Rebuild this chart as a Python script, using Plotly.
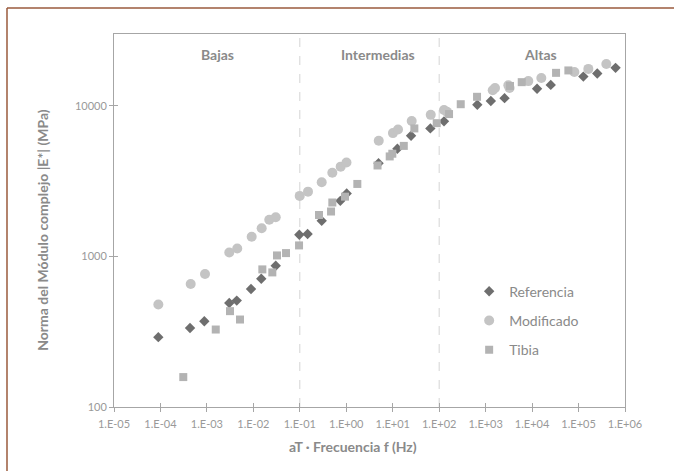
import math
import plotly.graph_objects as go

# Complex modulus |E*| (MPa) vs reduced frequency aT·f (Hz)
ref_f = [9.0e-5, 4.33e-4, 8.8e-4, 3.03e-3, 4.39e-3, 8.9e-3, 1.48e-2, 3.03e-2,
         9.75e-2, 0.147, 0.296, 0.745, 1.02, 4.95, 12.6, 24.8, 64.5, 127,
         662, 1294, 2553, 12790, 25220, 126800, 252900, 626600]
ref_E = [291, 335, 371, 491, 509, 607, 711, 867,
         1393, 1409, 1722, 2338, 2618, 4157, 5189, 6324, 7079, 7888,
         10160, 10770, 11250, 12970, 13770, 15630, 16410, 17870]

mod_f = [9.0e-5, 4.48e-4, 9.1e-4, 3.03e-3, 4.5e-3, 9.2e-3, 1.51e-2, 2.2e-2, 3.03e-2,
         9.95e-2, 0.150, 0.296, 0.501, 0.758, 1.01, 5.0, 10.1, 13.0, 25.6, 65.8,
         127, 147.6, 1422, 1593, 3083, 3272, 8300, 15810, 81280, 162500, 396400]
mod_E = [479, 656, 764, 1063, 1130, 1350, 1539, 1750, 1820,
         2523, 2692, 3112, 3597, 3946, 4200, 5859, 6590, 6965, 7924, 8711,
         9376, 9120, 12700, 13150, 13710, 13150, 14590, 15310, 16790, 17590, 18970]

tib_f = [3.1e-4, 1.55e-3, 3.14e-3, 5.16e-3, 1.56e-2, 2.56e-2, 3.23e-2, 5.05e-2, 9.62e-2,
         0.259, 0.470, 0.501, 0.940, 1.73, 4.71, 8.61, 9.8, 17.3, 29.2, 88.5,
         163, 291, 653, 3350, 5985, 32800, 60390]
tib_E = [158, 327, 433, 381, 820, 783, 1015, 1052, 1183,
         1884, 1987, 2280, 2494, 3029, 4017, 4613, 4808, 5420, 7079, 7670,
         8814, 10250, 11480, 13550, 14360, 16560, 17180]

x_ticks = [1e-5, 1e-4, 1e-3, 1e-2, 1e-1, 1e0, 1e1, 1e2, 1e3, 1e4, 1e5, 1e6]
x_tick_text = ["1.E-05", "1.E-04", "1.E-03", "1.E-02", "1.E-01", "1.E+00",
               "1.E+01", "1.E+02", "1.E+03", "1.E+04", "1.E+05", "1.E+06"]
y_ticks = [100, 1000, 10000]
y_tick_text = ["100", "1000", "10000"]

# frequency zones and their boundaries
zone_names = ["Bajas", "Intermedias", "Altas"]
zone_label_f = [1.73e-3, 4.8, 15500]
zone_bounds = [0.1, 100]

FONT = "Lato, 'Open Sans', sans-serif"
GREY_TXT = "#8a8a8a"
TICK_TXT = "#999999"
AXIS = "#a6a6a6"

fig = go.Figure()
series = [
    ("Referencia", ref_f, ref_E, "diamond", "#6e6e6e", 8),
    ("Modificado", mod_f, mod_E, "circle", "#c4c4c4", 10),
    ("Tibia", tib_f, tib_E, "square", "#b3b3b3", 8),
]
for name, xs, ys, sym, col, sz in series:
    fig.add_trace(go.Scatter(
        x=xs, y=ys, mode="markers", name=name, legendgroup=name,
        marker=dict(symbol=sym, color=col, size=sz, line=dict(width=0)),
    ))

# companion axes carrying the inward half of each tick mark
fig.add_trace(go.Scatter(x=[x_ticks[0]], y=[y_ticks[0]], xaxis="x2", yaxis="y2",
                         mode="markers", marker=dict(opacity=0), showlegend=False,
                         hoverinfo="skip"))

for b in zone_bounds:
    fig.add_shape(type="line", xref="x", yref="paper", x0=b, x1=b, y0=0, y1=1,
                  line=dict(color="#d4d4d4", width=1, dash="dash"), layer="below")

for name, f in zip(zone_names, zone_label_f):
    fig.add_annotation(x=math.log10(f), y=4.338, xref="x", yref="y",
                       text="<b>%s</b>" % name, showarrow=False,
                       font=dict(family=FONT, size=14, color=GREY_TXT))

# outer frame (left and top edges)
fig.add_shape(type="line", xref="paper", yref="paper", x0=-0.2094, x1=1.3,
              y0=1.0697, y1=1.0697, line=dict(color="#9a5a3c", width=1.5))
fig.add_shape(type="line", xref="paper", yref="paper", x0=-0.2094, x1=-0.2094,
              y0=1.0697, y1=-0.4, line=dict(color="#9a5a3c", width=1.5))

fig.add_annotation(xref="paper", yref="paper", x=0.468, y=-0.107,
                   text="<b>aT · Frecuencia f (Hz)</b>", showarrow=False,
                   font=dict(family=FONT, size=14, color=GREY_TXT),
                   xanchor="center", yanchor="middle")
fig.add_annotation(xref="paper", yref="paper", x=-0.139, y=0.475,
                   text="<b>Norma del Módulo complejo |E*| (MPa)</b>", showarrow=False,
                   textangle=-90, font=dict(family=FONT, size=14, color=GREY_TXT),
                   xanchor="center", yanchor="middle")

axis_common = dict(showgrid=False, zeroline=False, showline=True, linecolor=AXIS,
                   linewidth=1, mirror=True, ticks="outside", ticklen=4,
                   tickcolor=AXIS, tickfont=dict(family=FONT, size=11, color=TICK_TXT))

fig.update_layout(
    width=674, height=471,
    margin=dict(l=114, r=49, t=34, b=64),
    paper_bgcolor="white", plot_bgcolor="white",
    font=dict(family=FONT),
    showlegend=True,
    legend=dict(x=0.695, y=0.352, xanchor="left", yanchor="top",
                bgcolor="rgba(0,0,0,0)", tracegroupgap=8, itemwidth=30,
                font=dict(family=FONT, size=14, color=GREY_TXT)),
    xaxis=dict(type="log", range=[-5, 6], tickvals=x_ticks, ticktext=x_tick_text,
               ticklabelstandoff=3, **axis_common),
    yaxis=dict(type="log", range=[2, 4.477], tickvals=y_ticks, ticktext=y_tick_text,
               **axis_common),
    xaxis2=dict(type="log", range=[-5, 6], overlaying="x", anchor="y2", side="bottom",
                tickvals=x_ticks, ticks="inside", ticklen=4, tickcolor=AXIS,
                showticklabels=False, showgrid=False, zeroline=False, showline=False),
    yaxis2=dict(type="log", range=[2, 4.477], overlaying="y", anchor="x2", side="left",
                tickvals=y_ticks, ticks="inside", ticklen=4, tickcolor=AXIS,
                showticklabels=False, showgrid=False, zeroline=False, showline=False),
)

fig.write_html("out.html")
